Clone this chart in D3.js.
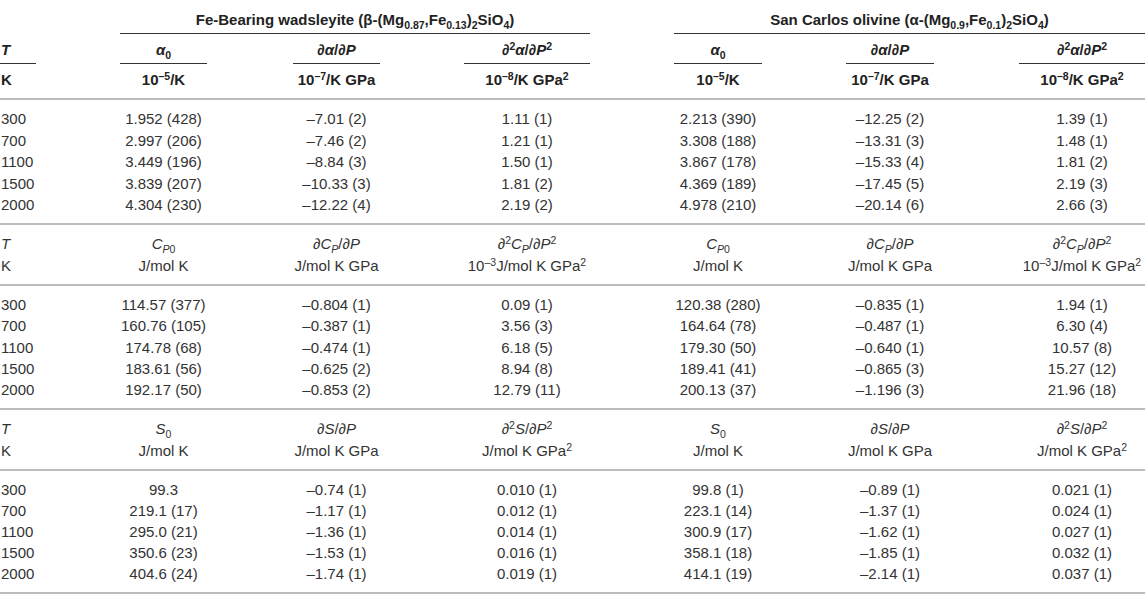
<!DOCTYPE html>
<html>
<head>
<meta charset="utf-8">
<script src="https://cdn.jsdelivr.net/npm/d3@7"></script>
<style>
  body { margin: 0; background: #fff; }
  svg text { font-family: "Liberation Sans", Arial, sans-serif; white-space: pre; }
</style>
</head>
<body>
<script>
// ---- table content ----
const temps = ["300", "700", "1100", "1500", "2000"];

const groupTitles = [
    "Fe-Bearing wadsleyite (β-(Mg_{0.87},Fe_{0.13})_{2}SiO_{4})",
    "San Carlos olivine (α-(Mg_{0.9},Fe_{0.1})_{2}SiO_{4})"
];

// header rows per section (T column first, then the three quantity columns, same for both minerals)
const alphaHead = ["*T*", "*α*_{0}", "∂*α*/∂*P*", "∂^{2}*α*/∂*P*^{2}"];
const alphaUnits = ["K", "10^{–5}/K", "10^{–7}/K GPa", "10^{–8}/K GPa^{2}"];
const cpHead = ["*T*", "*C*_{*P*0}", "∂*C*_{*P*}/∂*P*", "∂^{2}*C*_{*P*}/∂*P*^{2}"];
const cpUnits = ["K", "J/mol K", "J/mol K GPa", "10^{–3}J/mol K GPa^{2}"];
const sHead = ["*T*", "*S*_{0}", "∂*S*/∂*P*", "∂^{2}*S*/∂*P*^{2}"];
const sUnits = ["K", "J/mol K", "J/mol K GPa", "J/mol K GPa^{2}"];

// wadsleyite
const wadsAlpha0 = ["1.952 (428)", "2.997 (206)", "3.449 (196)", "3.839 (207)", "4.304 (230)"];
const wadsDAlpha = ["–7.01 (2)", "–7.46 (2)", "–8.84 (3)", "–10.33 (3)", "–12.22 (4)"];
const wadsD2Alpha = ["1.11 (1)", "1.21 (1)", "1.50 (1)", "1.81 (2)", "2.19 (2)"];
const wadsCp0 = ["114.57 (377)", "160.76 (105)", "174.78 (68)", "183.61 (56)", "192.17 (50)"];
const wadsDCp = ["–0.804 (1)", "–0.387 (1)", "–0.474 (1)", "–0.625 (2)", "–0.853 (2)"];
const wadsD2Cp = ["0.09 (1)", "3.56 (3)", "6.18 (5)", "8.94 (8)", "12.79 (11)"];
const wadsS0 = ["99.3", "219.1 (17)", "295.0 (21)", "350.6 (23)", "404.6 (24)"];
const wadsDS = ["–0.74 (1)", "–1.17 (1)", "–1.36 (1)", "–1.53 (1)", "–1.74 (1)"];
const wadsD2S = ["0.010 (1)", "0.012 (1)", "0.014 (1)", "0.016 (1)", "0.019 (1)"];

// olivine
const olAlpha0 = ["2.213 (390)", "3.308 (188)", "3.867 (178)", "4.369 (189)", "4.978 (210)"];
const olDAlpha = ["–12.25 (2)", "–13.31 (3)", "–15.33 (4)", "–17.45 (5)", "–20.14 (6)"];
const olD2Alpha = ["1.39 (1)", "1.48 (1)", "1.81 (2)", "2.19 (3)", "2.66 (3)"];
const olCp0 = ["120.38 (280)", "164.64 (78)", "179.30 (50)", "189.41 (41)", "200.13 (37)"];
const olDCp = ["–0.835 (1)", "–0.487 (1)", "–0.640 (1)", "–0.865 (3)", "–1.196 (3)"];
const olD2Cp = ["1.94 (1)", "6.30 (4)", "10.57 (8)", "15.27 (12)", "21.96 (18)"];
const olS0 = ["99.8 (1)", "223.1 (14)", "300.9 (17)", "358.1 (18)", "414.1 (19)"];
const olDS = ["–0.89 (1)", "–1.37 (1)", "–1.62 (1)", "–1.85 (1)", "–2.14 (1)"];
const olD2S = ["0.021 (1)", "0.024 (1)", "0.027 (1)", "0.032 (1)", "0.037 (1)"];

const sections = [
    { head: alphaHead, units: alphaUnits, bold: true,
      cols: [wadsAlpha0, wadsDAlpha, wadsD2Alpha, olAlpha0, olDAlpha, olD2Alpha] },
    { head: cpHead, units: cpUnits, bold: false,
      cols: [wadsCp0, wadsDCp, wadsD2Cp, olCp0, olDCp, olD2Cp] },
    { head: sHead, units: sUnits, bold: false,
      cols: [wadsS0, wadsDS, wadsD2S, olS0, olDS, olD2S] }
];

// ---- layout ----
const width = 1145, height = 594;
const fontSize = 15;
// horizontal extent of each quantity column (left, right)
const colSpans = [[120, 207], [293, 380], [464, 590], [674, 762], [846, 934], [1019, 1145]];
const colCenter = colSpans.map(s => (s[0] + s[1]) / 2);
const tSpan = [0, 36];

// vertical: header rows and data rows per section
const headY = [[50, 80], [244, 266], [429, 451]];
const ruleY = [[99, 224], [285, 409], [470, 593]]; // line above data, line below data
const dataY = sections.map((s, i) => d3.scaleLinear().domain([0, temps.length - 1])
    .range([ruleY[i][0] + 20, ruleY[i][1] - 19]));

var svg = d3.select("body")
    .append("svg")
    .attr("width", width)
    .attr("height", height);

// parse small markup: *..* italic, ^{..} sup, _{..} sub
function parseRich(str) {
    const out = [];
    let italic = false, shift = 0, buf = '';
    const stack = [];
    const flush = () => { if (buf) { out.push({ text: buf, italic: italic, shift: shift }); buf = ''; } };
    let i = 0;
    while (i < str.length) {
        const c = str[i];
        if (c === '*') { flush(); italic = !italic; i++; }
        else if ((c === '^' || c === '_') && str[i + 1] === '{') {
            flush(); stack.push(shift); shift = c === '^' ? 1 : -1; i += 2;
        }
        else if (c === '}') { flush(); shift = stack.pop(); i++; }
        else { buf += c; i++; }
    }
    flush();
    return out;
}

function richText(g, str, x, y, anchor, opts) {
    const t = g.append("text")
        .attr("x", x)
        .attr("y", y)
        .attr("text-anchor", anchor)
        .attr("font-size", fontSize)
        .attr("font-weight", opts.bold ? "bold" : "normal")
        .attr("fill", opts.color);
    let cur = 0;
    parseRich(str).forEach(tok => {
        const target = tok.shift > 0 ? -5.5 : tok.shift < 0 ? 3.5 : 0;
        t.append("tspan")
            .attr("dy", target - cur)
            .attr("font-size", tok.shift ? fontSize * 0.7 : fontSize)
            .attr("font-style", tok.italic ? "italic" : "normal")
            .text(tok.text);
        cur = target;
    });
    return t;
}

const base = 5; // text baseline offset from row center

// group titles with underline
groupTitles.forEach((title, gi) => {
    const x0 = colSpans[gi * 3][0], x1 = colSpans[gi * 3 + 2][1];
    richText(svg, title, (x0 + x1) / 2, 20 + base, "middle", { bold: true, color: "#222" });
    svg.append("line")
        .attr("x1", x0).attr("x2", x1)
        .attr("y1", 33.5).attr("y2", 33.5)
        .attr("stroke", "#333").attr("stroke-width", 1.2);
});

// sections
sections.forEach((sec, si) => {
    const g = svg.append("g").attr("class", "section");
    const hc = sec.bold ? "#222" : "#333";

    // header row 1 and units row
    richText(g, sec.head[0], tSpan[0] + 1, headY[si][0] + base, "start", { bold: sec.bold, color: hc });
    richText(g, sec.units[0], tSpan[0] + 1, headY[si][1] + base, "start", { bold: sec.bold, color: hc });
    colCenter.forEach((cx, ci) => {
        const k = ci % 3 + 1;
        richText(g, sec.head[k], cx, headY[si][0] + base, "middle", { bold: sec.bold, color: hc });
        richText(g, sec.units[k], cx, headY[si][1] + base, "middle", { bold: sec.bold, color: hc });
    });

    // underlines between header and units (first section only)
    if (si === 0) {
        [tSpan].concat(colSpans).forEach(s => {
            g.append("line")
                .attr("x1", s[0]).attr("x2", s[1])
                .attr("y1", 63.5).attr("y2", 63.5)
                .attr("stroke", "#333").attr("stroke-width", 1.2);
        });
    }

    // rules
    ruleY[si].forEach(y => {
        g.append("line")
            .attr("x1", 0).attr("x2", width)
            .attr("y1", y).attr("y2", y)
            .attr("stroke", "#bdbdbd").attr("stroke-width", 2);
    });

    // temperature column
    g.selectAll(".tcell").data(temps).enter().append("text")
        .attr("class", "tcell")
        .attr("x", tSpan[0] + 1)
        .attr("y", (d, i) => dataY[si](i) + base)
        .attr("font-size", fontSize)
        .attr("fill", "#333")
        .text(d => d);

    // value columns
    sec.cols.forEach((col, ci) => {
        g.selectAll(".c" + ci).data(col).enter().append("text")
            .attr("class", "c" + ci)
            .attr("x", colCenter[ci])
            .attr("y", (d, i) => dataY[si](i) + base)
            .attr("text-anchor", "middle")
            .attr("font-size", fontSize)
            .attr("fill", "#333")
            .text(d => d);
    });
});
</script>
</body>
</html>
